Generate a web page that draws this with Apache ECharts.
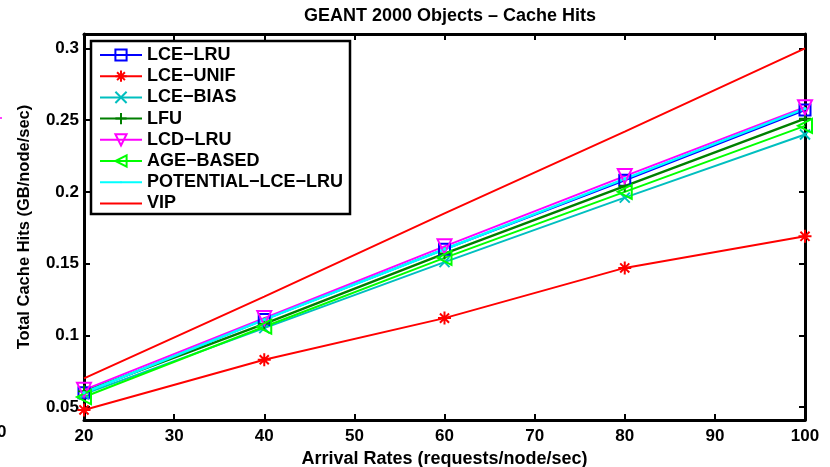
<!DOCTYPE html>
<html>
<head>
<meta charset="utf-8">
<script src="https://cdn.jsdelivr.net/npm/echarts@6/dist/echarts.min.js"></script>
<style>html,body{margin:0;padding:0;background:#fff;}#c{width:830px;height:467px;}</style>
</head>
<body>
<div id="c"></div>
<script>
const rates = [20, 40, 60, 80, 100];
const yTicks = [0.05, 0.1, 0.15, 0.2, 0.25, 0.3];
const lceLru = [0.060, 0.111, 0.160, 0.208, 0.257];
const lceUnif = [0.048, 0.083, 0.112, 0.147, 0.169];
const lceBias = [0.059, 0.105, 0.151, 0.196, 0.240];
const lfu = [0.061, 0.108, 0.157, 0.204, 0.251];
const lcdLru = [0.062, 0.112, 0.162, 0.211, 0.259];
const ageBased = [0.057, 0.106, 0.154, 0.200, 0.246];
const potentialLceLru = [0.060, 0.111, 0.160, 0.209, 0.258];
const vip = [0.070, 0.127, 0.185, 0.242, 0.300];

const F = 'Liberation Sans, Arial, sans-serif';
const sym = {
  square: 'path://M-1,-1 L1,-1 L1,1 L-1,1 Z',
  star: 'path://M0,-1 L0,1 M-1,0 L1,0 M-0.7,-0.7 L0.7,0.7 M-0.7,0.7 L0.7,-0.7',
  x: 'path://M-1,-1 L1,1 M-1,1 L1,-1',
  plus: 'path://M0,-1 L0,1 M-1,0 L1,0',
  tdown: 'path://M-1,-0.85 L1,-0.85 L0,0.85 Z',
  tleft: 'path://M0.85,-1 L0.85,1 L-0.85,0 Z',
  dot: 'path://M-6,-6 M6,6 M-1,0 A1,1 0 1,0 1,0 A1,1 0 1,0 -1,0 Z',
  none: 'path://M-1,-1 M1,1'
};
function mk(name, data, color, symbol, size, lw, fill) {
  return {
    name, type: 'line', data: rates.map((r, i) => [r, data[i]]),
    color, z: 2,
    symbol: symbol || sym.none, symbolSize: size || 1, showSymbol: !!symbol,
    lineStyle: { color, width: lw || 2 },
    itemStyle: symbol
      ? { color: fill || 'rgba(0,0,0,0)', borderColor: color, borderWidth: fill ? 0 : 2 }
      : { color: 'rgba(0,0,0,0)', borderColor: 'rgba(0,0,0,0)', borderWidth: 0 },
    emphasis: { disabled: true }, animation: false
  };
}
const series = [
  mk('LCE\u2212LRU', lceLru, '#0000ff', sym.square, 11),
  mk('LCE\u2212UNIF', lceUnif, '#ff0000', sym.star, 13),
  mk('LCE\u2212BIAS', lceBias, '#00bfbf', sym.x, 10),
  mk('LFU', lfu, '#007f00', sym.plus, 12, 2.5),
  mk('LCD\u2212LRU', lcdLru, '#ff00ff', sym.tdown, 14),
  mk('AGE\u2212BASED', ageBased, '#00ff00', sym.tleft, 14),
  mk('POTENTIAL\u2212LCE\u2212LRU', potentialLceLru, '#00ffff', sym.dot, 20, 2.5, '#00ffff'),
  mk('VIP', vip, '#ff0000', null, 0)
];
const axLine = { show: true, lineStyle: { color: '#000', width: 3 } };
const tick = { show: true, inside: true, length: 6, lineStyle: { color: '#000', width: 2 } };
const lbl = { fontFamily: F, fontWeight: 'bold', fontSize: 17, color: '#000' };
const chart = echarts.init(document.getElementById('c'));
chart.setOption({
  animation: false,
  title: { text: 'GEANT 2000 Objects \u2013 Cache Hits', left: 445, textAlign: 'center', top: 2,
    textStyle: { fontFamily: F, fontWeight: 'bold', fontSize: 18, color: '#000' } },
  grid: { left: 84, right: 25, top: 34, bottom: 47, containLabel: false, outerBoundsMode: 'none' },
  legend: {
    left: 99, top: 46, orient: 'vertical', z: 20,
    padding: 0, itemWidth: 42, itemHeight: 14, itemGap: 3.2,
    textStyle: { fontFamily: F, fontWeight: 'bold', fontSize: 18, color: '#000', lineHeight: 18 },
    data: series.map(s => s.name)
  },
  xAxis: [
    { type: 'value', min: 20, max: 100, interval: 10, position: 'bottom',
      name: 'Arrival Rates (requests/node/sec)', nameLocation: 'middle', nameGap: 26,
      nameTextStyle: { fontFamily: F, fontWeight: 'bold', fontSize: 18, color: '#000' },
      axisLine: axLine, axisTick: tick, splitLine: { show: false },
      axisLabel: Object.assign({ margin: 8 }, lbl) },
    { type: 'value', min: 20, max: 100, interval: 10, position: 'top',
      axisLine: axLine, axisTick: tick, splitLine: { show: false }, axisLabel: { show: false } }
  ],
  yAxis: [
    { type: 'value', min: 0.041, max: 0.31, position: 'left',
      name: 'Total Cache Hits (GB/node/sec)', nameLocation: 'middle', nameGap: 51,
      nameTextStyle: { fontFamily: F, fontWeight: 'bold', fontSize: 16.5, color: '#000' },
      axisLine: axLine, splitLine: { show: false },
      axisTick: Object.assign({ customValues: yTicks }, tick),
      axisLabel: Object.assign({ customValues: yTicks, margin: 5,
        formatter: v => String(+v.toFixed(2)) }, lbl) },
    { type: 'value', min: 0.041, max: 0.31, position: 'right',
      axisLine: axLine, splitLine: { show: false },
      axisTick: Object.assign({ customValues: yTicks }, tick), axisLabel: { show: false } }
  ],
  graphic: [
    { type: 'rect', z: 1, shape: { x: 91, y: 41, width: 259, height: 173 },
      style: { fill: '#fff', stroke: '#000', lineWidth: 2.5 } },
    { type: 'text', left: -3, top: 424, style: { text: '0', fontFamily: F, fontWeight: 'bold', fontSize: 17, fill: '#000' } },
    { type: 'line', shape: { x1: 0, y1: 118, x2: 2, y2: 118 }, style: { stroke: '#ff00ff', lineWidth: 1.5 } }
  ],
  series
});
</script>
</body>
</html>
